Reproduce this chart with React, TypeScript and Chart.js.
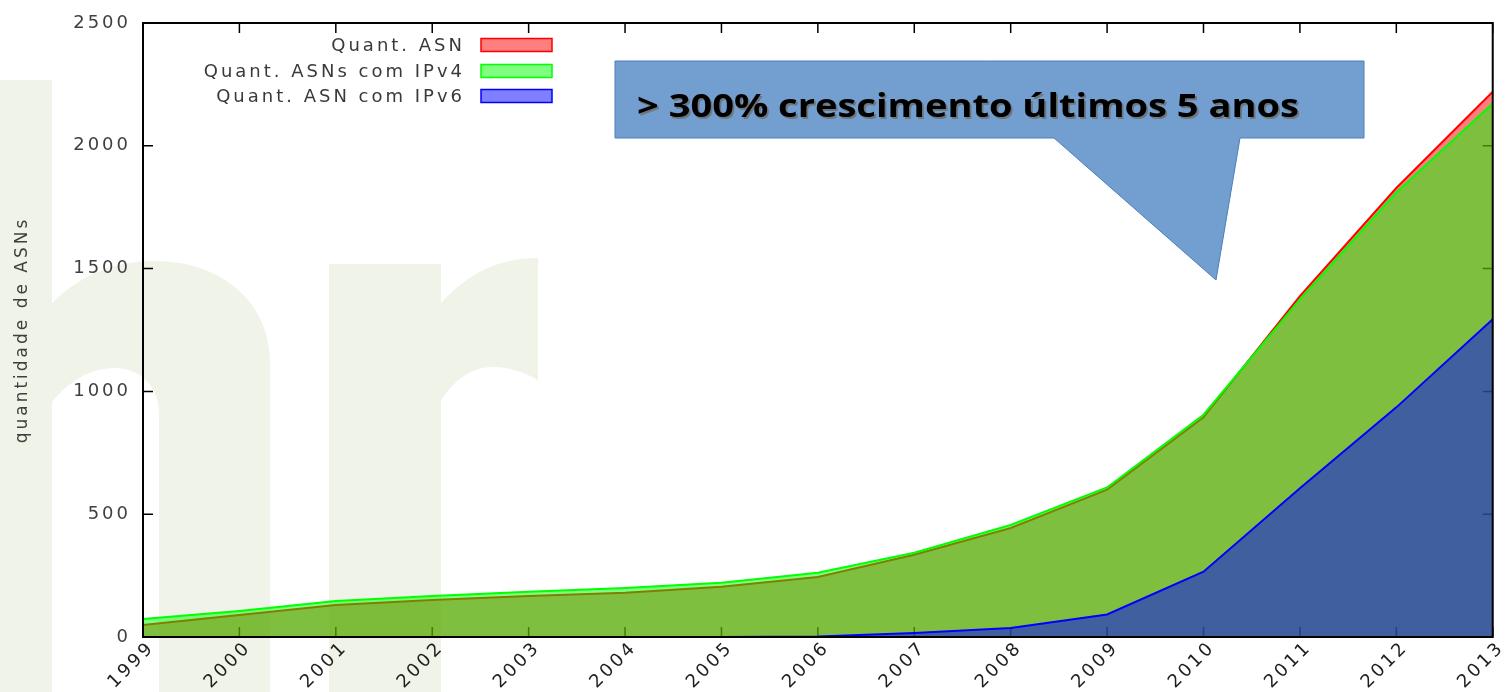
import React, { useEffect, useRef } from 'react';
import { Chart, registerables } from 'chart.js';

Chart.register(...registerables);

// ---------- data ----------
const years = ['1999', '2000', '2001', '2002', '2003', '2004', '2005', '2006', '2007', '2008', '2009', '2010', '2011', '2012', '2013'];
const asnTotal = [49, 90, 130, 151, 167, 180, 205, 244, 335, 444, 600, 895, 1388, 1828, 2220];
const asnIPv4 = [73, 106, 147, 167, 184, 200, 221, 262, 343, 456, 609, 905, 1375, 1810, 2172];
const asnIPv6 = [0, 0, 0, 0, 0, 0, 0, 2, 16, 37, 92, 266, 606, 935, 1294];
const yTickValues = [0, 500, 1000, 1500, 2000, 2500];
const seriesLabels = ['Quant. ASN', 'Quant. ASNs com IPv4', 'Quant. ASN com IPv6'];
const lineColors = ['#ff0000', '#00ff00', '#0000ff'];
const fillColors = ['rgba(255,0,0,0.5)', 'rgba(0,255,0,0.5)', 'rgba(0,0,255,0.5)'];
const yTitle = 'quantidade de ASNs';
const calloutText = '> 300% crescimento últimos 5 anos';

const SPACING = '3px';

const spacingPlugin = {
  id: 'spacing',
  beforeLayout(chart: any) { chart.ctx.letterSpacing = SPACING; },
  beforeDraw(chart: any) { chart.ctx.letterSpacing = SPACING; },
};

const watermarkPlugin = {
  id: 'watermark',
  beforeDraw(chart: any) {
    const ctx = chart.ctx;
    ctx.save();
    ctx.fillStyle = '#F0F3E8';
    ctx.fillRect(0, 80, 52, 612);
    // n
    ctx.beginPath();
    ctx.moveTo(52, 303);
    ctx.bezierCurveTo(82, 274, 115, 261, 154, 261);
    ctx.bezierCurveTo(225, 261, 270, 305, 270, 362);
    ctx.lineTo(270, 692);
    ctx.lineTo(159, 692);
    ctx.lineTo(159, 413);
    ctx.bezierCurveTo(159, 386, 140, 368, 114, 368);
    ctx.bezierCurveTo(90, 368, 68, 382, 52, 402);
    ctx.closePath();
    ctx.fill();
    // r
    ctx.beginPath();
    ctx.moveTo(329, 264);
    ctx.lineTo(441, 264);
    ctx.lineTo(441, 303);
    ctx.bezierCurveTo(468, 273, 500, 258, 538, 258);
    ctx.lineTo(538, 380);
    ctx.bezierCurveTo(522, 371, 507, 367, 493, 367);
    ctx.bezierCurveTo(471, 367, 455, 380, 441, 400);
    ctx.lineTo(441, 692);
    ctx.lineTo(329, 692);
    ctx.closePath();
    ctx.fill();
    ctx.restore();
  },
};

const ticksPlugin = {
  id: 'inwardTicks',
  beforeDatasetsDraw(chart: any) {
    const { ctx, chartArea: a, scales } = chart;
    const len = 10;
    ctx.save();
    ctx.strokeStyle = '#000';
    ctx.lineWidth = 1.5;
    ctx.beginPath();
    yTickValues.forEach((v) => {
      const y = scales.y.getPixelForValue(v);
      ctx.moveTo(a.left, y); ctx.lineTo(a.left + len, y);
      ctx.moveTo(a.right, y); ctx.lineTo(a.right - len, y);
    });
    years.forEach((_, i) => {
      const x = scales.x.getPixelForValue(i);
      ctx.moveTo(x, a.bottom); ctx.lineTo(x, a.bottom - len);
      ctx.moveTo(x, a.top); ctx.lineTo(x, a.top + len);
    });
    ctx.stroke();
    ctx.restore();
  },
};

const framePlugin = {
  id: 'frame',
  afterDatasetsDraw(chart: any) {
    const { ctx, chartArea: a } = chart;
    ctx.save();
    ctx.strokeStyle = '#000';
    ctx.lineWidth = 2;
    ctx.strokeRect(a.left, a.top, a.right - a.left, a.bottom - a.top);
    ctx.restore();
  },
};

const overlayPlugin = {
  id: 'overlay',
  afterDraw(chart: any) {
    const ctx = chart.ctx;
    // legend
    ctx.save();
    ctx.letterSpacing = SPACING;
    ctx.font = '18px "DejaVu Sans"';
    ctx.textAlign = 'right';
    ctx.textBaseline = 'middle';
    const rows = [45, 71, 96];
    chart.data.datasets.forEach((ds: any, i: number) => {
      const cy = rows[i];
      ctx.fillStyle = '#3a3a3a';
      ctx.fillText(ds.label, 465, cy + 1);
      ctx.fillStyle = '#fff';
      ctx.fillRect(481, cy - 6.5, 71, 13);
      ctx.fillStyle = ds.backgroundColor;
      ctx.fillRect(481, cy - 6.5, 71, 13);
      ctx.strokeStyle = ds.borderColor;
      ctx.lineWidth = 1.5;
      ctx.strokeRect(481, cy - 6.5, 71, 13);
    });
    ctx.restore();

    // callout
    ctx.save();
    ctx.letterSpacing = '0px';
    ctx.beginPath();
    ctx.moveTo(615, 61);
    ctx.lineTo(1364, 61);
    ctx.lineTo(1364, 138);
    ctx.lineTo(1240, 138);
    ctx.lineTo(1216, 280);
    ctx.lineTo(1054, 138);
    ctx.lineTo(615, 138);
    ctx.closePath();
    ctx.fillStyle = '#729FCF';
    ctx.fill();
    ctx.strokeStyle = '#4A7EBB';
    ctx.lineWidth = 1;
    ctx.stroke();

    ctx.font = 'bold 32px "Open Sans"';
    ctx.textAlign = 'left';
    ctx.textBaseline = 'alphabetic';
    const w = ctx.measureText(calloutText).width;
    const sx = 662 / w;
    ctx.translate(637, 117);
    ctx.scale(sx, 1);
    ctx.fillStyle = 'rgba(110,110,110,0.85)';
    ctx.fillText(calloutText, 1.5, 1.5);
    ctx.fillStyle = '#000';
    ctx.fillText(calloutText, 0, 0);
    ctx.restore();
  },
};

export default function App() {
  const ref = useRef<HTMLCanvasElement>(null);
  useEffect(() => {
    document.body.style.margin = '0';
    const canvas = ref.current!;
    const data = [asnTotal, asnIPv4, asnIPv6];
    const chart = new Chart(canvas, {
      type: 'line',
      data: {
        labels: years,
        datasets: data.map((d, i) => ({
          label: seriesLabels[i],
          data: d,
          borderColor: lineColors[i],
          backgroundColor: fillColors[i],
          borderWidth: 2,
          fill: 'origin',
          pointRadius: 0,
          tension: 0,
          order: 3 - i,
        })),
      },
      options: {
        responsive: false,
        animation: false,
        events: [],
        layout: { padding: { top: 23, right: 11, left: 0, bottom: 0 } },
        plugins: { legend: { display: false }, tooltip: { enabled: false } },
        scales: {
          x: {
            type: 'category',
            offset: false,
            grid: { display: false, drawTicks: false },
            border: { display: false },
            ticks: {
              autoSkip: false,
              minRotation: 45,
              maxRotation: 45,
              padding: 0,
              labelOffset: 9,
              color: '#1e1e1e',
              font: { family: 'DejaVu Sans', size: 18 },
            },
            afterFit: (s: any) => { s.height = 55; },
          },
          y: {
            min: 0,
            max: 2500,
            grid: { display: false, drawTicks: false },
            border: { display: false },
            ticks: {
              stepSize: 500,
              padding: 12,
              color: '#404040',
              font: { family: 'DejaVu Sans', size: 18 },
              callback: (v: any) => String(v),
            },
            title: {
              display: true,
              text: yTitle,
              color: '#404040',
              font: { family: 'DejaVu Sans', size: 17 },
              padding: { top: 12, bottom: 0 },
            },
            afterFit: (s: any) => { s.width = 143; },
          },
        },
      },
      plugins: [spacingPlugin, watermarkPlugin, ticksPlugin, framePlugin, overlayPlugin],
    });
    return () => chart.destroy();
  }, []);
  return <canvas ref={ref} width={1508} height={692} style={{ display: 'block' }} />;
}
